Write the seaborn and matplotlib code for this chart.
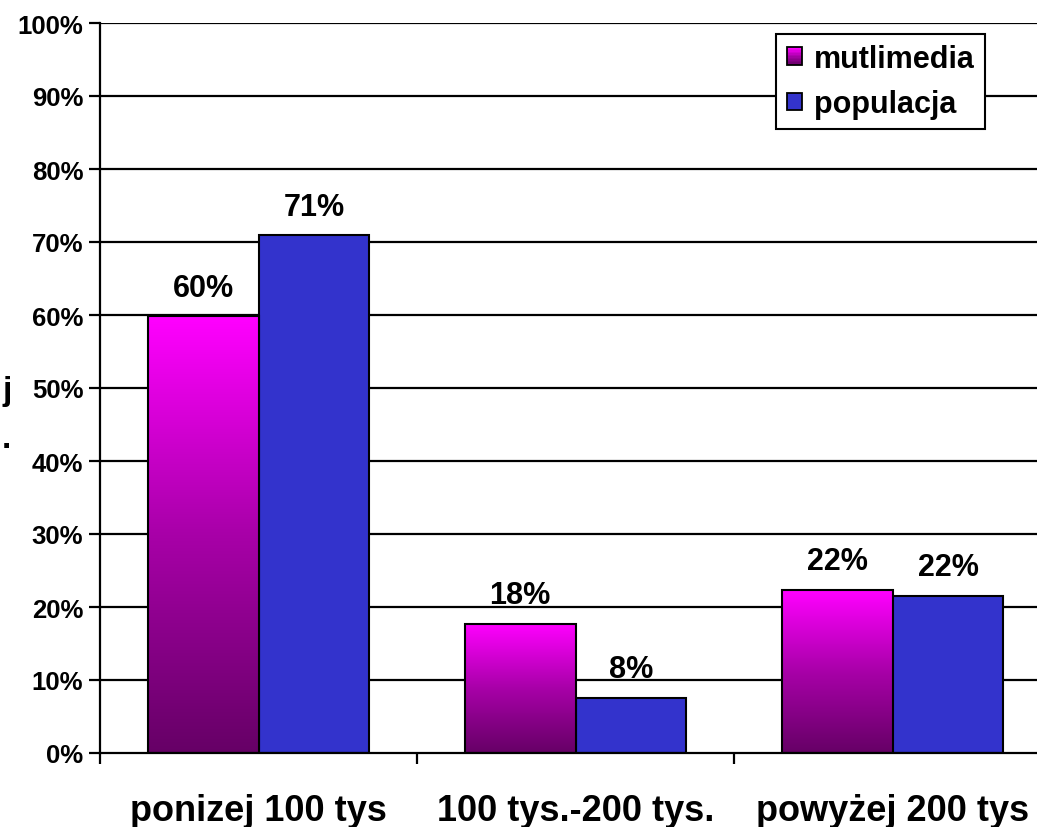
import numpy as np
import pandas as pd
import matplotlib
matplotlib.use("Agg")
import matplotlib.pyplot as plt
from matplotlib.patches import Rectangle
from matplotlib.legend_handler import HandlerBase
from matplotlib.colors import LinearSegmentedColormap
import seaborn as sns

categories = ["ponizej 100 tys", "100 tys.-200 tys.", "powyżej 200 tys"]
mutlimedia = [59.8, 17.7, 22.3]
populacja = [70.9, 7.6, 21.5]
series_names = ["mutlimedia", "populacja"]
y_ticks = [0, 10, 20, 30, 40, 50, 60, 70, 80, 90, 100]

sns.set_theme(style="white")
plt.rcParams["font.family"] = ["Liberation Sans", "DejaVu Sans"]
plt.rcParams["font.weight"] = "bold"
plt.rcParams["text.color"] = "black"
plt.rcParams["xtick.color"] = "black"
plt.rcParams["ytick.color"] = "black"
plt.rcParams["axes.labelcolor"] = "black"

df = pd.DataFrame({
    "kategoria": categories * 2,
    "seria": [series_names[0]] * 3 + [series_names[1]] * 3,
    "wartosc": mutlimedia + populacja,
})

MAG_TOP = "#ff00ff"
MAG_BOTTOM = "#660066"
BLUE = "#3333cc"
grad_cmap = LinearSegmentedColormap.from_list("mag", [MAG_BOTTOM, "#a800a8", MAG_TOP])

W, H = 1037, 828
fig = plt.figure(figsize=(W / 100, H / 100), dpi=100)
fig.patch.set_facecolor("white")
ax = fig.add_axes([100 / W, 1 - 754 / H, 951 / W, 730 / H])
ax.set_facecolor("none")

sns.barplot(data=df, x="kategoria", y="wartosc", hue="seria",
            palette={series_names[0]: MAG_TOP, series_names[1]: BLUE},
            saturation=1, width=0.7, ax=ax, edgecolor="black", linewidth=1.5,
            legend=False, zorder=3)

# horizontal grid lines
for v in y_ticks[1:]:
    ax.axhline(v, color="black", lw=1.6, zorder=1)

# gradient fill for the first series
mag_container, blue_container = ax.containers[0], ax.containers[1]
grad = np.linspace(0, 1, 256).reshape(-1, 1)
for p in mag_container.patches:
    x0, y0 = p.get_x(), p.get_y()
    w, h = p.get_width(), p.get_height()
    im = ax.imshow(grad, extent=[x0, x0 + w, y0, y0 + h], origin="lower",
                   cmap=grad_cmap, aspect="auto", zorder=3.5)
    im.set_clip_path(p)
    p.set_facecolor("none")
    p.set_zorder(4)
ax.set_aspect("auto")
ax.set_xlim(-0.5, 2.5)
ax.set_ylim(0, 100)

# value labels
for cont, vals in ((mag_container, mutlimedia), (blue_container, populacja)):
    ax.bar_label(cont, labels=[f"{v:.0f}%" for v in vals], padding=10,
                 fontsize=22, fontweight="bold", color="black", zorder=6)

# axes styling
for side in ("top", "right"):
    ax.spines[side].set_visible(False)
for side in ("left", "bottom"):
    ax.spines[side].set_color("black")
    ax.spines[side].set_linewidth(1.6)
    ax.spines[side].set_zorder(5)

ax.set_yticks(y_ticks)
ax.set_yticklabels([f"{v}%" for v in y_ticks], fontsize=18.5, fontweight="bold")
ax.tick_params(axis="y", direction="out", length=8, width=1.6, color="black", pad=4, left=True)

ax.set_xticks([-0.5, 0.5, 1.5, 2.5])
ax.set_xticklabels([])
ax.set_xticks([0, 1, 2], minor=True)
ax.set_xticklabels(categories, minor=True, fontsize=26, fontweight="bold")
ax.tick_params(axis="x", which="major", direction="out", length=8, width=1.6, color="black", bottom=True)
ax.tick_params(axis="x", which="minor", length=0, pad=29)
ax.set_xlabel("")
ax.set_ylabel("")

# partial axis caption on the left edge
fig.text(2 / W, 1 - 392 / H, "j", fontsize=24, fontweight="bold", va="center", ha="left")
fig.text(2 / W, 1 - 440 / H, ".", fontsize=24, fontweight="bold", va="center", ha="left")


class GradientHandler(HandlerBase):
    def create_artists(self, legend, orig_handle, xdescent, ydescent, width, height, fontsize, trans):
        arts = []
        n = 12
        for i in range(n):
            c = grad_cmap(i / (n - 1))
            arts.append(Rectangle((-xdescent, -ydescent + height * i / n), width, height / n + 0.3,
                                  facecolor=c, edgecolor="none", transform=trans))
        arts.append(Rectangle((-xdescent, -ydescent), width, height, facecolor="none",
                              edgecolor="black", lw=1.3, transform=trans))
        return arts


h_mag = Rectangle((0, 0), 1, 1, facecolor=MAG_TOP, edgecolor="black")
h_blue = Rectangle((0, 0), 1, 1, facecolor=BLUE, edgecolor="black", lw=1.3)
leg = ax.legend([h_mag, h_blue], series_names, loc="upper right",
                bbox_to_anchor=(985 / W, 1 - 35 / H), bbox_transform=fig.transFigure,
                handler_map={h_mag: GradientHandler()},
                prop={"size": 22, "weight": "bold"}, frameon=True, fancybox=False,
                handlelength=0.52, handleheight=0.52, handletextpad=0.38,
                borderpad=0.33, labelspacing=0.5, borderaxespad=0)
leg.get_frame().set_edgecolor("black")
leg.get_frame().set_linewidth(1.5)
leg.get_frame().set_facecolor("white")
leg.get_frame().set_alpha(1)
leg.set_zorder(10)

fig.savefig("out.png", dpi=100, facecolor="white")
